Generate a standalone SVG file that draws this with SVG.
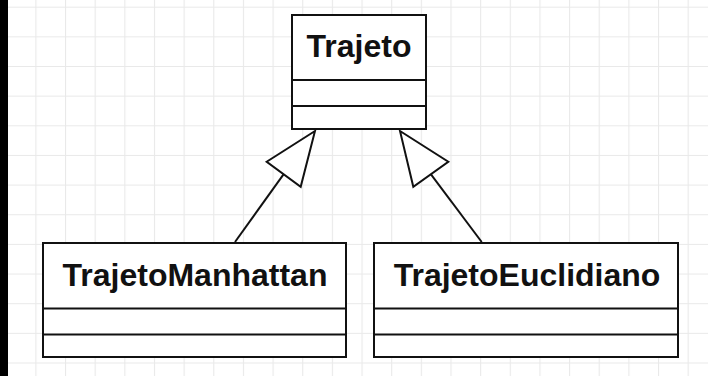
<svg xmlns="http://www.w3.org/2000/svg" width="708" height="376" viewBox="0 0 708 376">
  <defs>
    <pattern id="grid" patternUnits="userSpaceOnUse" x="5.7" y="6.7" width="29.65" height="29.65">
      <path d="M0.5 0 V29.65 M0 0.5 H29.65" fill="none" stroke="#e9e9e9" stroke-width="1.2"/>
    </pattern>
  </defs>
  <style>
    .box { fill: #ffffff; stroke: #111111; stroke-width: 2; }
    .div { stroke: #111111; stroke-width: 2; }
    .lbl { font-family: "Liberation Sans", Arial, sans-serif; font-weight: bold; font-size: 32px; fill: #111111; text-anchor: middle; }
    .edge { fill: none; stroke: #111111; stroke-width: 2; }
    .head { fill: #ffffff; stroke: #111111; stroke-width: 2; stroke-linejoin: miter; }
  </style>
  <rect width="708" height="376" fill="#ffffff"/>
  <rect width="708" height="376" fill="url(#grid)"/>
  <rect x="0" y="0" width="8" height="376" fill="#000000"/>

  <g id="Trajeto">
    <rect class="box" x="292" y="15" width="134" height="114"/>
    <line class="div" x1="292" y1="80" x2="426" y2="80"/>
    <line class="div" x1="292" y1="106" x2="426" y2="106"/>
    <text class="lbl" x="359" y="57">Trajeto</text>
  </g>

  <g id="TrajetoManhattan">
    <rect class="box" x="43" y="243" width="303" height="114"/>
    <line class="div" x1="43" y1="308.5" x2="346" y2="308.5"/>
    <line class="div" x1="43" y1="334.5" x2="346" y2="334.5"/>
    <text class="lbl" x="195" y="286">TrajetoManhattan</text>
  </g>

  <g id="TrajetoEuclidiano">
    <rect class="box" x="374" y="243" width="304" height="114"/>
    <line class="div" x1="374" y1="308.5" x2="678" y2="308.5"/>
    <line class="div" x1="374" y1="334.5" x2="678" y2="334.5"/>
    <text class="lbl" x="527" y="286">TrajetoEuclidiano</text>
  </g>

  <g id="connectors">
    <line class="edge" x1="235" y1="242" x2="283.7" y2="174.2"/>
    <polygon class="head" points="315,131 266.7,161.7 300.7,186.7"/>
    <line class="edge" x1="481.7" y1="242" x2="430.8" y2="174.2"/>
    <polygon class="head" points="400,131 448.3,161.7 413.3,186.7"/>
  </g>
</svg>
